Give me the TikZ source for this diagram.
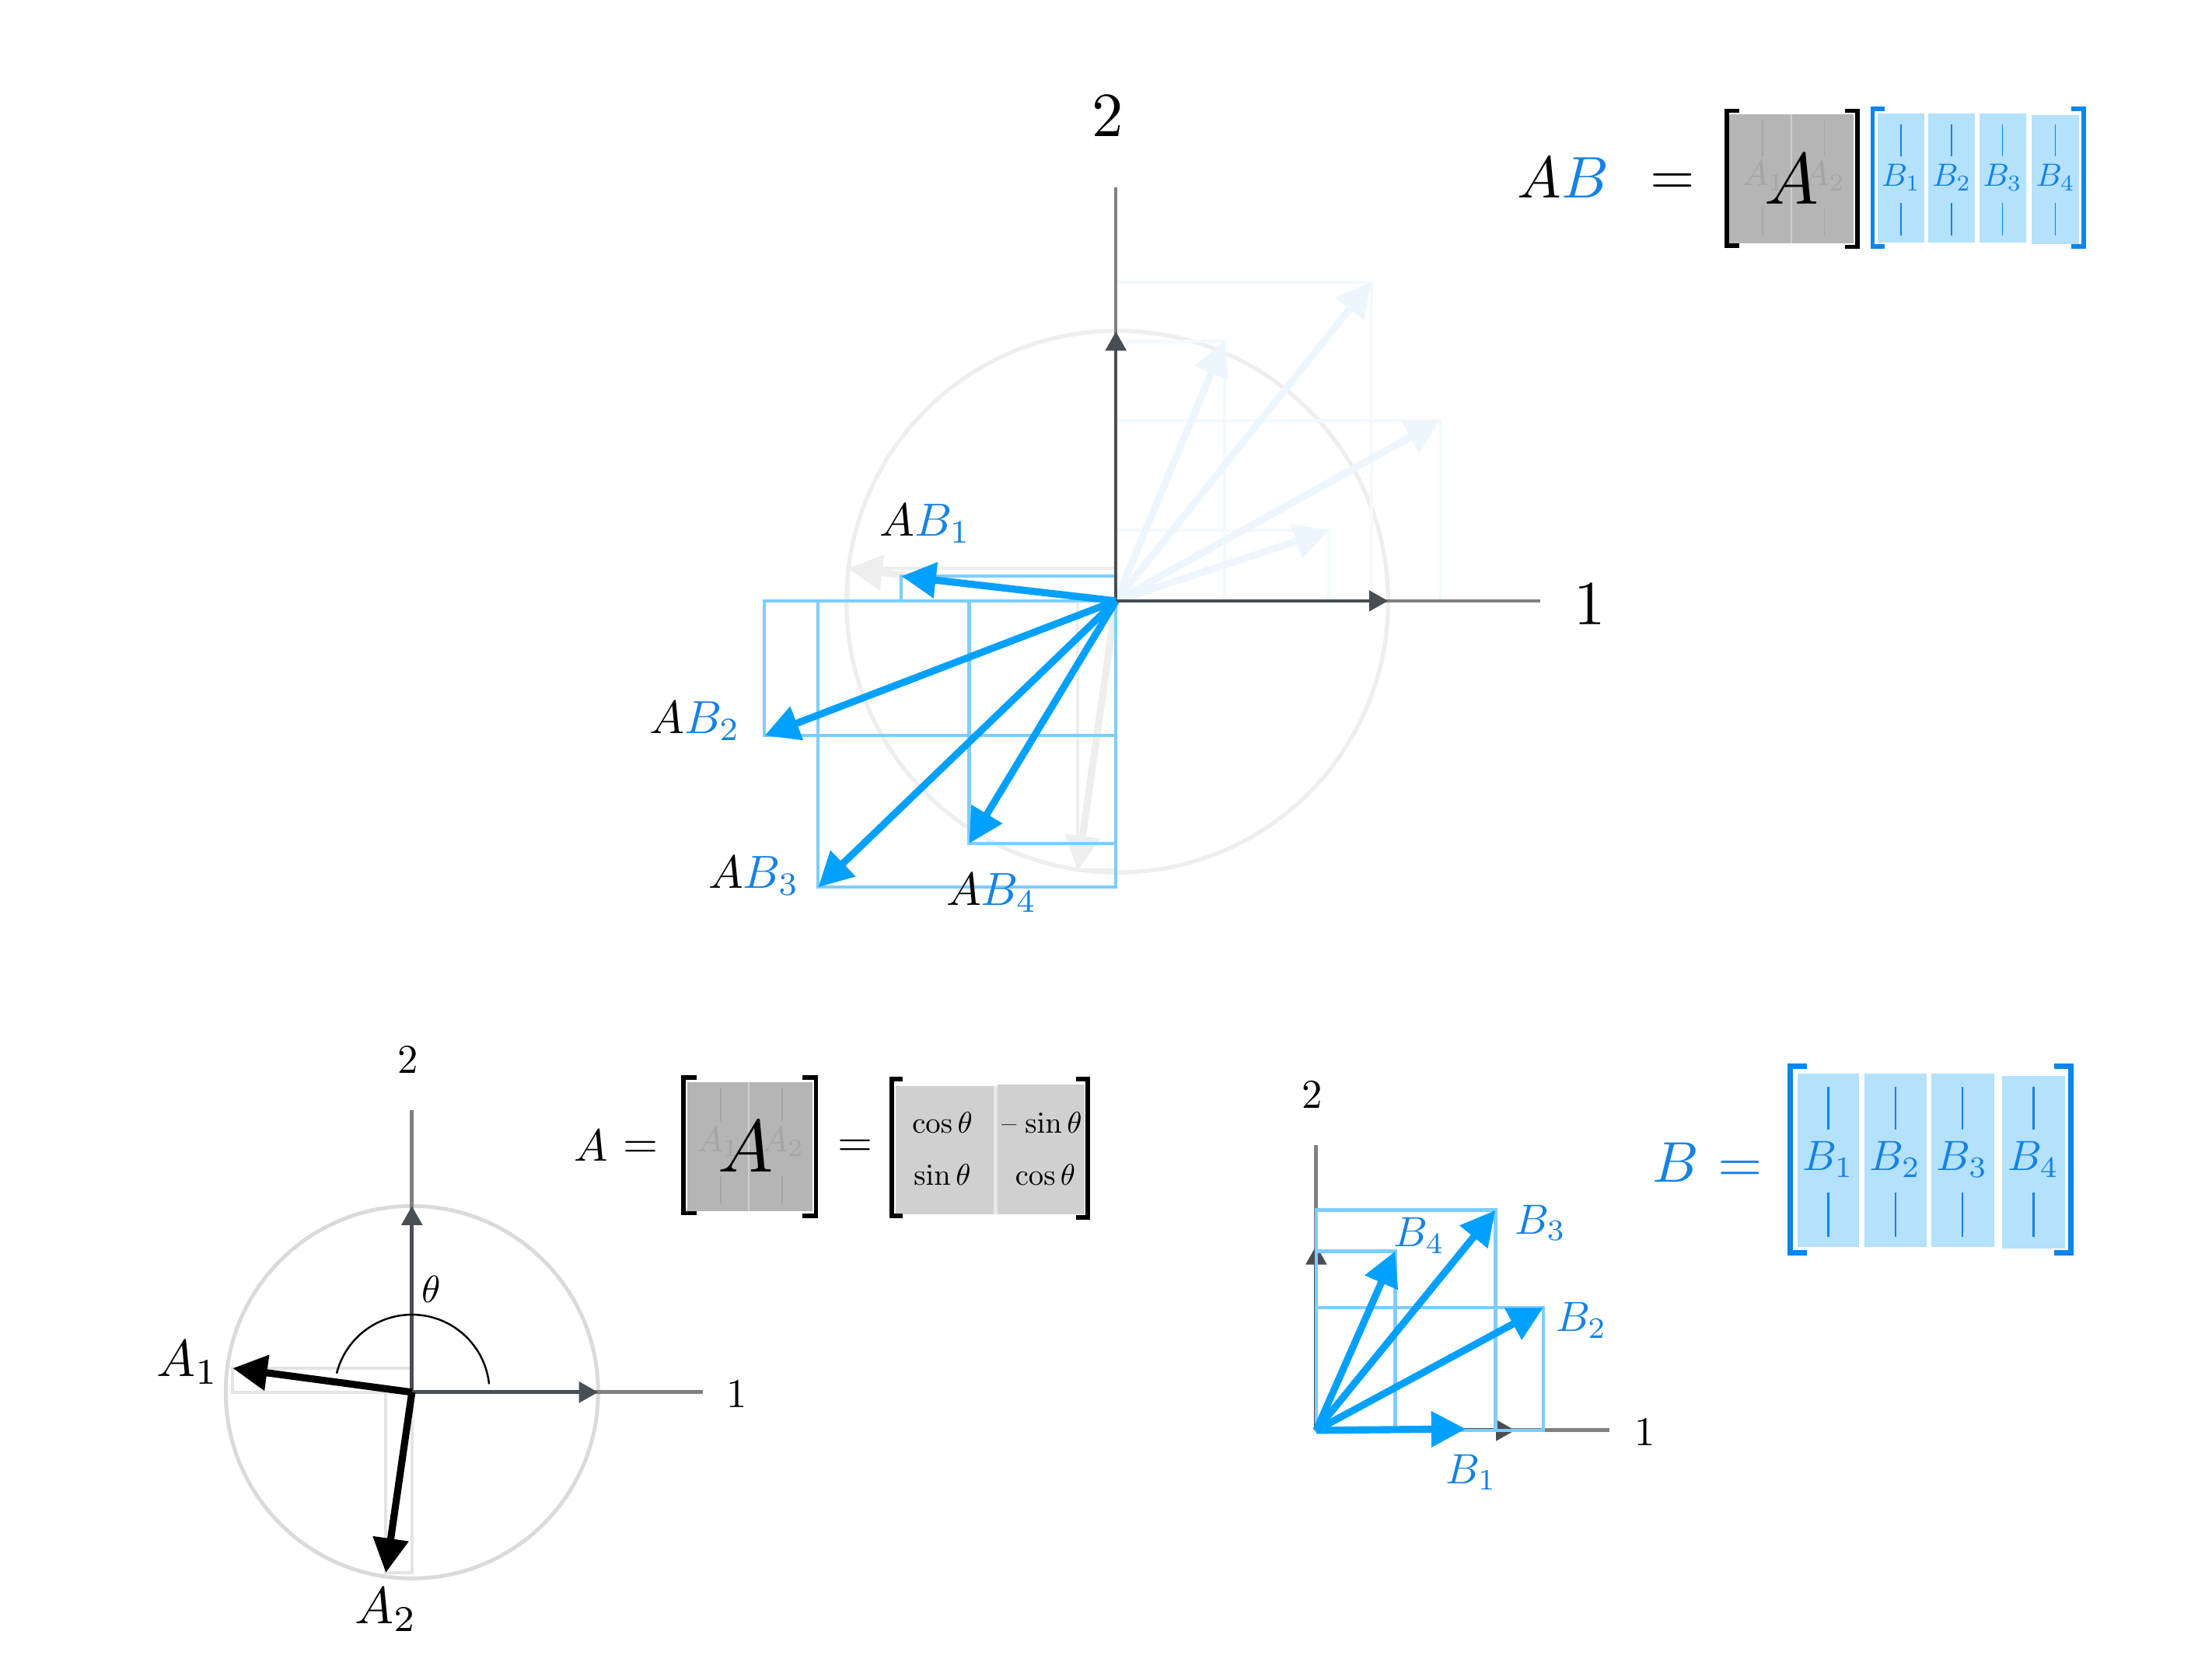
\documentclass[tikz,border=0pt]{standalone}
\usetikzlibrary{arrows.meta}
\definecolor{arrblue}{RGB}{0,160,255}
\definecolor{boxblue}{RGB}{125,205,255}
\definecolor{txtblue}{RGB}{20,130,230}
\definecolor{brblue}{RGB}{10,133,232}
\definecolor{matblue}{RGB}{180,225,252}
\definecolor{ghostblue}{RGB}{237,246,255}
\definecolor{ghostboxc}{RGB}{242,249,255}
\definecolor{ghostgray}{RGB}{238,238,238}
\definecolor{axgray}{RGB}{128,128,128}
\definecolor{axdark}{RGB}{72,78,84}
\definecolor{circgray}{RGB}{238,238,238}
\definecolor{circgrayb}{RGB}{218,218,218}
\definecolor{projgray}{RGB}{228,228,228}
\definecolor{matgray}{RGB}{181,181,181}
\definecolor{matgrayl}{RGB}{208,208,208}
\definecolor{matgap}{RGB}{232,232,232}
\definecolor{faintgray}{RGB}{165,165,165}
\tikzset{
  fsz/.style={scale=#1/10},
  vec/.style={line width=2.6pt, -{Triangle[length=12.6pt,width=12.6pt]}},
  bluevec/.style={vec, draw=arrblue},
  blackvec/.style={vec, draw=black},
  ghostvec/.style={vec, draw=ghostblue},
  ghostgvec/.style={vec, draw=ghostgray},
  axline/.style={draw=axgray, line width=1.2pt},
  axarrow/.style={draw=axdark, line width=1.2pt, -{Triangle[length=7pt,width=7.5pt]}},
  projbox/.style={draw=boxblue, line width=1.15pt},
  ghostbox/.style={draw=ghostboxc, line width=1.1pt},
  graybox/.style={draw=projgray, line width=1.2pt},
  brk/.style={line width=1.6pt, line join=miter},
  bar/.style={line width=0.5pt},
  lbl/.style={inner sep=0pt, anchor=center}
}
\begin{document}
\begin{tikzpicture}[x=0.018144cm,y=-0.018144cm]
\fill[white] (0,0) rectangle (1568,1176);
\useasboundingbox (0,0) rectangle (1568,1176);

% ================= TOP PLOT =================
\coordinate (O) at (791,426);
\coordinate (Ox) at (1092,426);
\coordinate (Oxa) at (984,426);
\coordinate (Oy) at (791,133);
\coordinate (Oya) at (791,235);
\draw[circgray, line width=1.5pt] (792,426.5) circle (192);

% ghost A columns
\coordinate (GA1) at (601,403);
\coordinate (GA2) at (764,617);
\draw[graybox, draw=ghostgray] (O) rectangle (GA1);
\draw[graybox, draw=ghostgray] (O) rectangle (GA2);
\draw[ghostgvec] (O) -- (GA1);
\draw[ghostgvec] (O) -- (GA2);

% ghost B vectors
\coordinate (GB1) at (942,376);
\coordinate (GB2) at (1021,298);
\coordinate (GB3) at (972,200);
\coordinate (GB4) at (868,242);
\foreach \g in {GB1,GB2,GB3,GB4}{\draw[ghostbox] (O) rectangle (\g);}
\foreach \g in {GB1,GB2,GB3,GB4}{\draw[ghostvec] (O) -- (\g);}

% projected boxes AB
\coordinate (AB1) at (639,408.5);
\coordinate (AB2) at (542,521.5);
\coordinate (AB3) at (580,629);
\coordinate (AB4) at (687,598);
\foreach \g in {AB1,AB2,AB3,AB4}{\draw[projbox] (O) rectangle (\g);}

% axes
\draw[axline] (O) -- (Ox);
\draw[axline] (O) -- (Oy);
\draw[axarrow] (O) -- (Oxa);
\draw[axarrow] (O) -- (Oya);

% AB vectors
\foreach \g in {AB1,AB2,AB3,AB4}{\draw[bluevec] (O) -- (\g);}

\node[lbl, fsz=23] (t2) at (785,82) {2};
\node[lbl, fsz=23] (t1) at (1127,428) {1};
\node[lbl, fsz=17] (lAB1) at (656,371) {$A{\color{txtblue}B_1}$};
\node[lbl, fsz=17] (lAB2) at (492.6,511) {$A{\color{txtblue}B_2}$};
\node[lbl, fsz=17] (lAB3) at (534.4,621) {$A{\color{txtblue}B_3}$};
\node[lbl, fsz=17] (lAB4) at (703,633) {$A{\color{txtblue}B_4}$};

% ================= TOP EQUATION =================
\node[inner sep=0pt, anchor=base, fsz=21.5] (eqAB) at (1108,140) {$A{\color{txtblue}B}$};
\node[inner sep=0pt, anchor=base, fsz=21] (eqeq1) at (1185.5,138) {$=$};
% A matrix
\fill[matgray] (1226,81) rectangle (1314,172.6);
\draw[matgrayl, line width=0.6pt] (1270,81) -- (1270,172.6);
\draw[faintgray, bar] (1249.6,85.4) -- (1249.6,111) (1249.6,147) -- (1249.6,167);
\draw[faintgray, bar] (1293.3,85.4) -- (1293.3,111) (1293.3,147) -- (1293.3,167);
\node[lbl, fsz=13, text=faintgray] (tA1) at (1250,125) {$A_1$};
\node[lbl, fsz=13, text=faintgray] (tA2) at (1293,125) {$A_2$};
\node[lbl, fsz=26.5] (tA) at (1270,127) {$A$};
\draw[brk] (1233,78.5) -- (1224,78.5) -- (1224,174) -- (1233,174);
\draw[brk] (1308,78.5) -- (1316.5,78.5) -- (1316.5,175) -- (1308,175);
% B matrix
\fill[matblue] (1331,80.5) rectangle (1364,172);
\fill[matblue] (1367,80.5) rectangle (1400,172);
\fill[matblue] (1403,80.5) rectangle (1436,172);
\fill[matblue] (1440,81.5) rectangle (1474,173);
\foreach \cx/\i in {1347.5/1,1383.5/2,1419.5/3,1457/4}{
  \draw[txtblue, bar] (\cx,88) -- (\cx,111) (\cx,144) -- (\cx,167);
  \node[lbl, fsz=11.8, text=txtblue] (tB\i) at (\cx,126) {$B_\i$};
}
\draw[brk, brblue] (1336,77) -- (1327.5,77) -- (1327.5,174.8) -- (1336,174.8);
\draw[brk, brblue] (1468,77) -- (1477,77) -- (1477,174.8) -- (1468,174.8);

% ================= BOTTOM-LEFT PLOT =================
\coordinate (P) at (292,987);
\coordinate (Px) at (498,987);
\coordinate (Pxa) at (424,987);
\coordinate (Py) at (292,787);
\coordinate (Pya) at (292,855);
\coordinate (A1) at (165,970);
\coordinate (A2) at (273.5,1115);
\draw[circgrayb, line width=1.4pt] (P) circle (132);
\draw[graybox] (P) rectangle (A1);
\draw[graybox] (P) rectangle (A2);
\draw[axline, line width=1.4pt] (P) -- (Px);
\draw[axline, line width=1.4pt] (P) -- (Py);
\draw[axarrow, line width=1.4pt] (P) -- (Pxa);
\draw[axarrow, line width=1.4pt] (P) -- (Pya);
\draw[black, line width=0.7pt] ([shift={(-6:55)}]P) arc[start angle=-6, end angle=-166, radius=55];
\draw[blackvec] (P) -- (A1);
\draw[blackvec] (P) -- (A2);
\node[lbl, fsz=15] (b2) at (289,751) {2};
\node[lbl, fsz=15] (b1) at (522.5,988) {1};
\node[lbl, fsz=14] (bth) at (306,914) {$\theta$};
\node[lbl, fsz=19] (lA1) at (133,966) {$A_1$};
\node[lbl, fsz=19] (lA2) at (273.5,1141) {$A_2$};

% ================= BOTTOM A EQUATION =================
\node[inner sep=0pt, anchor=base, fsz=16.5] (eqA) at (419,823) {$A$};
\node[inner sep=0pt, anchor=base, fsz=16.5] (eqeq2) at (454,821) {$=$};
\fill[matgray] (487,767) rectangle (575.7,858.8);
\draw[matgrayl, line width=0.6pt] (530.8,767) -- (530.8,858.8);
\draw[faintgray, bar] (511,771) -- (511,794.6) (511,833.7) -- (511,853);
\draw[faintgray, bar] (554.6,771) -- (554.6,794.6) (554.6,833.7) -- (554.6,853);
\node[lbl, fsz=13, text=faintgray] (bA1) at (509,809.6) {$A_1$};
\node[lbl, fsz=13, text=faintgray] (bA2) at (555,809.6) {$A_2$};
\node[lbl, fsz=27] (bA) at (528.5,813) {$A$};
\draw[brk] (494,764) -- (484.5,764) -- (484.5,860) -- (494,860);
\draw[brk] (569,764) -- (578.5,764) -- (578.5,862) -- (569,862);
\node[inner sep=0pt, anchor=base, fsz=16.5] (eqeq3) at (606.5,820) {$=$};
\fill[matgap] (704.3,770) rectangle (707,861);
\fill[matgrayl] (635,770) rectangle (704.3,861);
\fill[matgrayl] (707,769) rectangle (769,861);
\node[lbl, fsz=11] (c11) at (668,796) {$\cos\theta$};
\node[lbl, fsz=11] (c21) at (668,833) {$\sin\theta$};
\node[lbl, fsz=11] (c12) at (738.5,796) {--\hspace{0.28em}$\sin\theta$};
\node[lbl, fsz=11] (c22) at (741,833) {$\cos\theta$};
\draw[brk] (640,765) -- (632,765) -- (632,862) -- (640,862);
\draw[brk] (763,765) -- (771,765) -- (771,863) -- (763,863);

% ================= BOTTOM-RIGHT PLOT =================
\coordinate (Q) at (933,1014);
\coordinate (Qx) at (1141,1014);
\coordinate (Qxa) at (1074,1014);
\coordinate (Qy) at (933,812);
\coordinate (Qya) at (933,883);
\coordinate (B1) at (1039,1013);
\coordinate (B2) at (1094,927);
\coordinate (B3) at (1060,858);
\coordinate (B4) at (989,887);
\draw[axline, line width=1.4pt] (Q) -- (Qx);
\draw[axline, line width=1.4pt] (Q) -- (Qy);
\draw[axarrow, line width=1.4pt] (Q) -- (Qxa);
\draw[axarrow, line width=1.4pt] (Q) -- (Qya);
\foreach \g in {B2,B3,B4}{\draw[projbox, line width=1.3pt] (Q) rectangle (\g);}
\foreach \g in {B1,B2,B3,B4}{\draw[bluevec] (Q) -- (\g);}
\node[lbl, fsz=15] (r2) at (930,776) {2};
\node[lbl, fsz=15] (r1) at (1166,1015) {1};
\node[lbl, fsz=15.5, text=txtblue] (lB1) at (1043,1044) {$B_1$};
\node[lbl, fsz=15.5, text=txtblue] (lB2) at (1121,936) {$B_2$};
\node[lbl, fsz=15.5, text=txtblue] (lB3) at (1092,867) {$B_3$};
\node[lbl, fsz=15.5, text=txtblue] (lB4) at (1006,876) {$B_4$};

% ================= BOTTOM B EQUATION =================
\node[inner sep=0pt, anchor=base, fsz=21, text=txtblue] (eqB) at (1188,838) {$B$};
\node[inner sep=0pt, anchor=base, fsz=21, text=txtblue] (eqeq4) at (1233.5,838) {$=$};
\fill[matblue] (1274,761) rectangle (1318,884);
\fill[matblue] (1321.4,761) rectangle (1365.7,884);
\fill[matblue] (1369,761) rectangle (1413.5,884);
\fill[matblue] (1419,763) rectangle (1464,885);
\foreach \cx/\i in {1296/1,1343.5/2,1391/3,1441.5/4}{
  \draw[txtblue, bar, line width=0.6pt] (\cx,770.5) -- (\cx,801) (\cx,845.6) -- (\cx,877);
  \node[lbl, fsz=15.5, text=txtblue] (mB\i) at (\cx,822) {$B_\i$};
}
\draw[brk, brblue, line width=1.9pt] (1281,756) -- (1269,756) -- (1269,888) -- (1281,888);
\draw[brk, brblue, line width=1.9pt] (1456,756) -- (1468,756) -- (1468,888) -- (1456,888);
\end{tikzpicture}
\end{document}
